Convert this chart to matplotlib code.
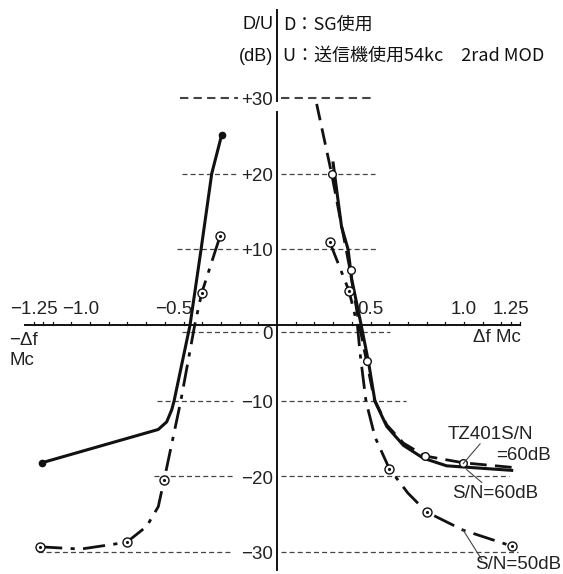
import matplotlib.pyplot as plt
import numpy as np

# solid curve (filled dot ends) - left and right branches
solid_left_x = [-1.258, -0.635, -0.59, -0.563, -0.551, -0.465, -0.406, -0.349, -0.296]
solid_left_y = [-18.2, -13.8, -12.8, -11.2, -10.1, 0.0, 10.0, 20.0, 25.1]
solid_right_x = [0.30, 0.345, 0.38, 0.40, 0.45, 0.49, 0.524, 0.587, 0.676, 0.783, 0.907, 1.255]
solid_right_y = [21.4, 13.0, 10.0, 6.0, 0.0, -5.0, -10.1, -13.4, -15.9, -17.6, -18.6, -19.2]

# dashed curve (TZ401 S/N=60dB), right side only
dash_x = [0.212, 0.292, 0.35, 0.385, 0.44, 0.479, 0.52, 0.587, 0.676, 0.791, 0.996, 1.255]
dash_y = [29.2, 20.0, 12.5, 8.0, 0.0, -4.8, -9.8, -13.2, -15.6, -17.3, -18.2, -18.8]
dash_mark_x = [0.292, 0.396, 0.479, 0.791, 0.996]
dash_mark_y = [20.0, 7.2, -4.8, -17.3, -18.2]

# dash-dot curve (S/N=50dB)
dd_left_x = [-1.267, -1.05, -0.804, -0.697, -0.635, -0.604, -0.515, -0.44, -0.403, -0.305]
dd_left_y = [-29.3, -29.6, -28.7, -26.6, -24.0, -20.5, -10.1, 0.0, 4.2, 11.7]
dd_right_x = [0.283, 0.385, 0.43, 0.444, 0.476, 0.524, 0.601, 0.70, 0.800, 0.996, 1.255]
dd_right_y = [10.9, 4.5, 0.0, -3.7, -10.1, -14.8, -19.0, -22.2, -24.7, -27.1, -29.2]
dd_mark_x = [-1.267, -0.804, -0.604, -0.403, -0.305, 0.283, 0.385, 0.601, 0.800, 1.255]
dd_mark_y = [-29.3, -28.7, -20.5, 4.2, 11.7, 10.9, 4.5, -19.0, -24.7, -29.2]

# horizontal dashed grid lines: level, left segment, right segment
grid_levels = [30, 20, 10, -0.9, -10, -20, -30]
grid_left = [(-0.52, -0.21), (-0.51, -0.21), (-0.535, -0.21), (-0.51, -0.10),
             (-0.64, -0.235), (-0.66, -0.235), (-1.28, -0.235)]
grid_right = [(0.02, 0.517), (0.02, 0.525), (0.02, 0.54), (0.02, 0.604),
              (0.02, 0.69), (0.02, 1.24), (0.02, 1.29)]
ylabels = ['+30', '+20', '+10', '0', '−10', '−20', '−30']

xtick_vals = [-1.25, -1.0, -0.5, 0.5, 1.0, 1.25]
xtick_labels = ['−1.25', '−1.0', '−0.5', '0.5', '1.0', '1.25']

num_font = ['Liberation Sans', 'DejaVu Sans']
jp_font = ['Noto Sans CJK JP', 'DejaVu Sans']

fig = plt.figure(figsize=(5.63, 5.74), dpi=100)
ax = fig.add_axes([0, 0, 1, 1])
ax.set_xlim(-1.4813, 1.5294)
ax.set_ylim(-32.89, 42.93)
ax.axis('off')

ink = '#111111'
grey = '#444444'
txt = '#222222'

# axes
ax.plot([-1.35, 1.30], [0, 0], color=ink, lw=1.4)
ax.plot([0, 0], [41.6, 29.6], color=ink, lw=1.4)
ax.plot([0, 0], [28.1, -32.4], color=ink, lw=1.4)
ticks = np.round(np.arange(-1.3, 1.31, 0.1), 2)
for t in list(ticks) + [-1.25, 1.25]:
    if t != 0:
        ax.plot([t, t], [0, 0.45], color=ink, lw=0.9)

# grid lines
for i, lev in enumerate(grid_levels):
    lw = 1.5 if lev == 30 else 0.9
    ax.plot(grid_left[i], [lev, lev], color=grey, lw=lw, dashes=(4, 2.5))
    ax.plot(grid_right[i], [lev, lev], color=grey, lw=lw, dashes=(4, 2.5))
    ax.text(-0.022, lev - 0.35, ylabels[i], ha='right', va='center',
            fontsize=13.5, family=num_font, color=txt)

for v, s in zip(xtick_vals, xtick_labels):
    xx = v - 0.05 if v < 0 else v
    ax.text(xx, 2.0, s, ha='center', va='center', fontsize=13.5,
            family=num_font, color=txt)

ax.text(-1.43, -0.9, '−Δf\nMc', ha='left', va='top', fontsize=13.5,
        family=num_font, color=txt, linespacing=1.25)
ax.text(1.048, -1.6, 'Δf Mc', ha='left', va='center', fontsize=13.5,
        family=num_font, color=txt)

# header texts
ax.text(-0.02, 39.7, 'D/U', ha='right', va='center', fontsize=13,
        family=num_font, color=ink)
ax.text(-0.02, 35.5, '(dB)', ha='right', va='center', fontsize=13,
        family=num_font, color=ink)
ax.text(0.033, 39.7, 'D：SG使用', ha='left', va='center', fontsize=13,
        family=jp_font, color=ink)
ax.text(0.033, 35.5, 'U：送信機使用54kc　2rad MOD', ha='left', va='center',
        fontsize=13, family=jp_font, color=ink)

# curves
ax.plot(solid_left_x, solid_left_y, color=ink, lw=2.2)
ax.plot([solid_left_x[0], solid_left_x[-1]], [solid_left_y[0], solid_left_y[-1]],
        'o', color=ink, ms=4.5, linestyle='none')
ax.plot(solid_right_x, solid_right_y, color=ink, lw=2.2)

ax.plot(dash_x, dash_y, color=ink, lw=2.0, dashes=(6, 3))
ax.plot(dash_mark_x, dash_mark_y, 'o', mfc='white', mec=ink, ms=5.5, mew=1.0, linestyle='none')

ax.plot(dd_left_x, dd_left_y, color=ink, lw=2.0, dashes=(8, 3, 1.5, 3))
ax.plot(dd_right_x, dd_right_y, color=ink, lw=2.0, dashes=(8, 3, 1.5, 3))
ax.plot(dd_mark_x, dd_mark_y, 'o', mfc='white', mec=ink, ms=6.5, mew=1.0, linestyle='none')
ax.plot(dd_mark_x, dd_mark_y, '.', color=ink, ms=2.5, linestyle='none')

# curve labels with leader lines
ax.text(0.915, -14.4, 'TZ401S/N', ha='left', va='center', fontsize=13.5,
        family=num_font, color=txt)
ax.text(1.17, -17.3, '=60dB', ha='left', va='center', fontsize=13.5,
        family=num_font, color=txt)
ax.text(0.935, -22.2, 'S/N=60dB', ha='left', va='center', fontsize=13.5,
        family=num_font, color=txt)
ax.text(1.06, -31.7, 'S/N=50dB', ha='left', va='center', fontsize=13.5,
        family=num_font, color=txt)
ax.plot([1.086, 0.996], [-15.7, -18.3], color=grey, lw=0.8)
ax.plot([1.095, 1.014], [-20.8, -19.1], color=grey, lw=0.8)
ax.plot([1.095, 0.996], [-31.0, -27.1], color=grey, lw=0.8)

plt.savefig('out.png', dpi=100)
plt.close()
